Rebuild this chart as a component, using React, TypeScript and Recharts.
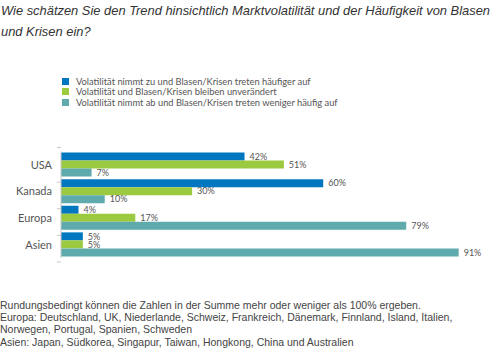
import React from "react";
import { BarChart, Bar, XAxis, YAxis, LabelList, Legend } from "recharts";

const categories = ["USA", "Kanada", "Europa", "Asien"];
const seriesNames = [
  "Volatilität nimmt zu und Blasen/Krisen treten häufiger auf",
  "Volatilität und Blasen/Krisen bleiben unverändert",
  "Volatilität nimmt ab und Blasen/Krisen treten weniger häufig auf",
];
const zunehmend = [42, 60, 4, 5];
const unveraendert = [51, 30, 17, 5];
const abnehmend = [7, 10, 79, 91];
const colors = ["#0077BF", "#9BC940", "#5EAAAD"];

const titleLines = [
  "Wie schätzen Sie den Trend hinsichtlich Marktvolatilität und der Häufigkeit von Blasen",
  "und Krisen ein?",
];
const footerLines = [
  "Rundungsbedingt können die Zahlen in der Summe mehr oder weniger als 100% ergeben.",
  "Europa: Deutschland, UK, Niederlande, Schweiz, Frankreich, Dänemark, Finnland, Island, Italien,",
  "Norwegen, Portugal, Spanien, Schweden",
  "Asien: Japan, Südkorea, Singapur, Taiwan, Hongkong, China und Australien",
];

const data = categories.map((name, i) => ({
  name,
  a: zunehmend[i],
  b: unveraendert[i],
  c: abnehmend[i],
}));

const CHART_H = 270;
const M_TOP = 120;
const M_BOTTOM = 12;
const BAND = (CHART_H - M_TOP - M_BOTTOM) / categories.length;
const LABEL_FONT = "Lato, 'DejaVu Sans', sans-serif";

const CatTick = (props: any) => {
  const { x, y, payload, index } = props;
  const half = BAND / 2;
  return (
    <g>
      <text
        x={x - 9}
        y={y}
        dy={4}
        textAnchor="end"
        fill="#555"
        fontSize={11}
        fontFamily={LABEL_FONT}
      >
        {payload.value}
      </text>
      {index === 0 && (
        <line x1={x - 4} x2={x} y1={y - half} y2={y - half} stroke="#c8c8c8" />
      )}
      <line x1={x - 4} x2={x} y1={y + half} y2={y + half} stroke="#c8c8c8" />
    </g>
  );
};

const LegendContent = () => (
  <div style={{ fontFamily: LABEL_FONT, fontSize: 9.3, color: "#555" }}>
    {seriesNames.map((n, i) => (
      <div
        key={n}
        style={{ display: "flex", alignItems: "center", height: 10.5 }}
      >
        <span
          style={{
            display: "inline-block",
            width: 7,
            height: 7,
            background: colors[i],
            marginRight: 7,
          }}
        />
        <span>{n}</span>
      </div>
    ))}
  </div>
);

const pct = (v: any) => `${v}%`;

export default function App() {
  return (
    <div
      style={{
        position: "absolute",
        left: 0,
        top: 0,
        width: 500,
        height: 350,
        background: "#fff",
        overflow: "hidden",
      }}
    >
      <div
        style={{
          position: "absolute",
          left: 1,
          top: 0,
          fontFamily: "'Liberation Sans', Arial, sans-serif",
          fontStyle: "italic",
          fontSize: 12.9,
          lineHeight: "21px",
          color: "#333",
          whiteSpace: "nowrap",
        }}
      >
        {titleLines.map((l) => (
          <div key={l}>{l}</div>
        ))}
      </div>
      <div style={{ position: "absolute", left: 0, top: 0 }}>
        <BarChart
          width={500}
          height={CHART_H}
          data={data}
          layout="vertical"
          margin={{ top: M_TOP, right: 2, bottom: M_BOTTOM, left: 0 }}
          barGap={0}
        >
          <XAxis type="number" domain={[0, 100]} hide />
          <YAxis
            type="category"
            dataKey="name"
            width={61}
            axisLine={{ stroke: "#c8c8c8" }}
            tickLine={false}
            tickSize={0}
            tickMargin={0}
            tick={<CatTick />}
            interval={0}
          />
          <Legend
            layout="vertical"
            align="center"
            verticalAlign="top"
            content={<LegendContent />}
            wrapperStyle={{ top: 76, left: 62, width: 320 }}
          />
          {["a", "b", "c"].map((k, i) => (
            <Bar
              key={k}
              dataKey={k}
              name={seriesNames[i]}
              fill={colors[i]}
              barSize={8}
              isAnimationActive={false}
            >
              <LabelList
                dataKey={k}
                position="right"
                offset={5}
                formatter={pct}
                fill="#555"
                fontSize={9}
                fontFamily={LABEL_FONT}
              />
            </Bar>
          ))}
        </BarChart>
      </div>
      <div
        style={{
          position: "absolute",
          left: 0,
          top: 299,
          fontFamily: "'Liberation Sans', Arial, sans-serif",
          fontSize: 10.5,
          lineHeight: "12.2px",
          color: "#444",
          whiteSpace: "nowrap",
        }}
      >
        {footerLines.map((l) => (
          <div key={l}>{l}</div>
        ))}
      </div>
    </div>
  );
}
